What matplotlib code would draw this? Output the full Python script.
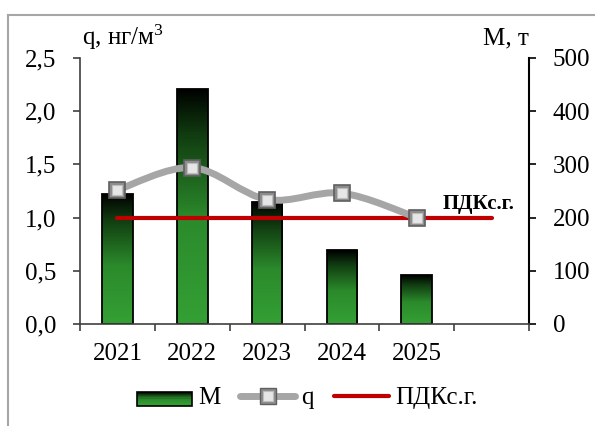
import numpy as np
import matplotlib
matplotlib.use("Agg")
import matplotlib.pyplot as plt
from matplotlib.colors import LinearSegmentedColormap
from matplotlib.lines import Line2D
from matplotlib.patches import Rectangle, PathPatch
from matplotlib.path import Path
from matplotlib.legend_handler import HandlerBase

plt.rcParams['font.family'] = ['Liberation Serif', 'DejaVu Serif']
plt.rcParams['mathtext.fontset'] = 'custom'
plt.rcParams['mathtext.rm'] = 'Liberation Serif'
plt.rcParams['mathtext.default'] = 'regular'

# data
years = ['2021', '2022', '2023', '2024', '2025', '']
mass = [244, 442, 229, 139, 92]          # M, т
conc = [1.26, 1.47, 1.17, 1.23, 1.00]    # q, нг/м3
pdk = [1.0, 1.0, 1.0, 1.0, 1.0, 1.0]     # ПДКс.г.

green_cmap = LinearSegmentedColormap.from_list(
    'bar', [(0.0, '#34a034'), (0.45, '#2b8a2b'), (0.8, '#113d11'), (1.0, '#000000')])


class GradientHandler(HandlerBase):
    def create_artists(self, legend, orig_handle, xd, yd, width, height, fontsize, trans):
        arts = []
        n = 12
        for k in range(n):
            c = green_cmap(1 - k / (n - 1))
            arts.append(Rectangle((xd, yd + height - (k + 1) * height / n), width, height / n,
                                  facecolor=c, edgecolor='none', transform=trans))
        arts.append(Rectangle((xd, yd), width, height, facecolor='none',
                              edgecolor='black', lw=1.2, transform=trans))
        return arts


fig = plt.figure(figsize=(5.95, 4.26), dpi=100)
ax = fig.add_axes([80 / 595, 1 - 324 / 426, 449 / 595, 266 / 426])   # q (left)
axm = ax.twinx()                                                       # M (right)
axm.set_zorder(ax.get_zorder() - 1)
ax.patch.set_visible(False)
axm.set_facecolor('#f2f2f2')

x = np.arange(len(years))

# bars with vertical gradient
grad = np.linspace(0, 1, 256).reshape(-1, 1)
bw = 0.41
for i, m in enumerate(mass):
    bar = Rectangle((i - bw / 2, 0), bw, m, facecolor='none', edgecolor='black', lw=1.3, zorder=3)
    axm.add_patch(bar)
    im = axm.imshow(grad, cmap=green_cmap, extent=(i - bw / 2, i + bw / 2, 0, m),
                    origin='lower', aspect='auto', zorder=2)
    im.set_clip_path(bar)

axm.set_ylim(0, 500)
axm.set_yticks(range(0, 501, 100))

# ПДК line
ax.plot(x, pdk, color='#c00000', lw=3, solid_capstyle='round', zorder=3)

# smoothed q line (bezier through points)
pts = np.column_stack([x[:len(conc)], conc])
verts = [tuple(pts[0])]
codes = [Path.MOVETO]
for i in range(len(pts) - 1):
    p0 = pts[max(i - 1, 0)]
    p1 = pts[i]
    p2 = pts[i + 1]
    p3 = pts[min(i + 2, len(pts) - 1)]
    c1 = p1 + (p2 - p0) / 6
    c2 = p2 - (p3 - p1) / 6
    verts += [tuple(c1), tuple(c2), tuple(p2)]
    codes += [Path.CURVE4] * 3
ax.add_patch(PathPatch(Path(verts, codes), facecolor='none', edgecolor='#a6a6a6',
                       lw=5, capstyle='round', zorder=4))
ax.plot(x[:len(conc)], conc, ls='none', marker='s', ms=11, mfc='#8c8c8c',
        mec='#5f5f5f', mew=1.2, zorder=5)
ax.plot(x[:len(conc)], conc, ls='none', marker='s', ms=6.5, mfc='#e6e6e6',
        mec='#bdbdbd', mew=0.8, zorder=6)

ax.text(4.34, 1.03, 'ПДКс.г.', fontsize=15, fontweight='bold', ha='left', va='bottom', zorder=7)

ax.set_xlim(-0.5, len(years) - 0.5)
ax.set_ylim(0, 2.5)
ax.set_yticks(np.arange(0, 2.51, 0.5))
ax.set_yticklabels([f'{v:.1f}'.replace('.', ',') for v in np.arange(0, 2.51, 0.5)])
ax.set_xticks(x)
ax.set_xticklabels(years)
ax.set_xticks(np.arange(-0.5, len(years)), minor=True)
ax.tick_params(axis='x', which='major', length=0, pad=14, labelsize=18)
ax.tick_params(axis='x', which='minor', length=5, width=1.2, color='#404040')
ax.tick_params(axis='y', length=5, width=1.2, color='#404040', pad=12, labelsize=18)
axm.tick_params(axis='y', length=5, width=1.2, color='black', pad=12, labelsize=18)

for a in (ax, axm):
    a.spines['top'].set_visible(False)
ax.spines['left'].set_color('#404040')
ax.spines['left'].set_linewidth(1.2)
ax.spines['bottom'].set_color('#404040')
ax.spines['bottom'].set_linewidth(1.2)
ax.spines['right'].set_visible(False)
axm.spines['left'].set_visible(False)
axm.spines['bottom'].set_visible(False)
axm.spines['right'].set_color('black')
axm.spines['right'].set_linewidth(1.5)

ax.text(0.005, 1.05, 'q, нг/м$^{3}$', transform=ax.transAxes, fontsize=18, ha='left', va='baseline')
ax.text(1.0, 1.05, 'M, т', transform=ax.transAxes, fontsize=18, ha='right', va='baseline')

q_handle = (Line2D([], [], color='#a6a6a6', lw=5, marker='s', ms=11, mfc='#8c8c8c', mec='#5f5f5f',
                   solid_capstyle='round'),
            Line2D([], [], ls='none', marker='s', ms=6.5, mfc='#e6e6e6', mec='#bdbdbd', mew=0.8))
handles = [Rectangle((0, 0), 1, 1),
           q_handle,
           Line2D([], [], color='#c00000', lw=3, solid_capstyle='round')]
fig.legend(handles, ['M', 'q', 'ПДКс.г.'], loc='center', bbox_to_anchor=(307 / 595, 1 - 398 / 426),
           ncol=3, frameon=False, fontsize=18, handlelength=2.2, handleheight=0.5,
           handletextpad=0.25, columnspacing=0.8, handler_map={Rectangle: GradientHandler()})

# outer frame (top and left edges visible)
fig.add_artist(Line2D([8 / 595, 1.0], [1 - 15 / 426, 1 - 15 / 426], color='#a6a6a6', lw=1.5))
fig.add_artist(Line2D([8 / 595, 8 / 595], [1 - 15 / 426, 0.0], color='#a6a6a6', lw=1.5))

fig.savefig('out.png', dpi=100)
